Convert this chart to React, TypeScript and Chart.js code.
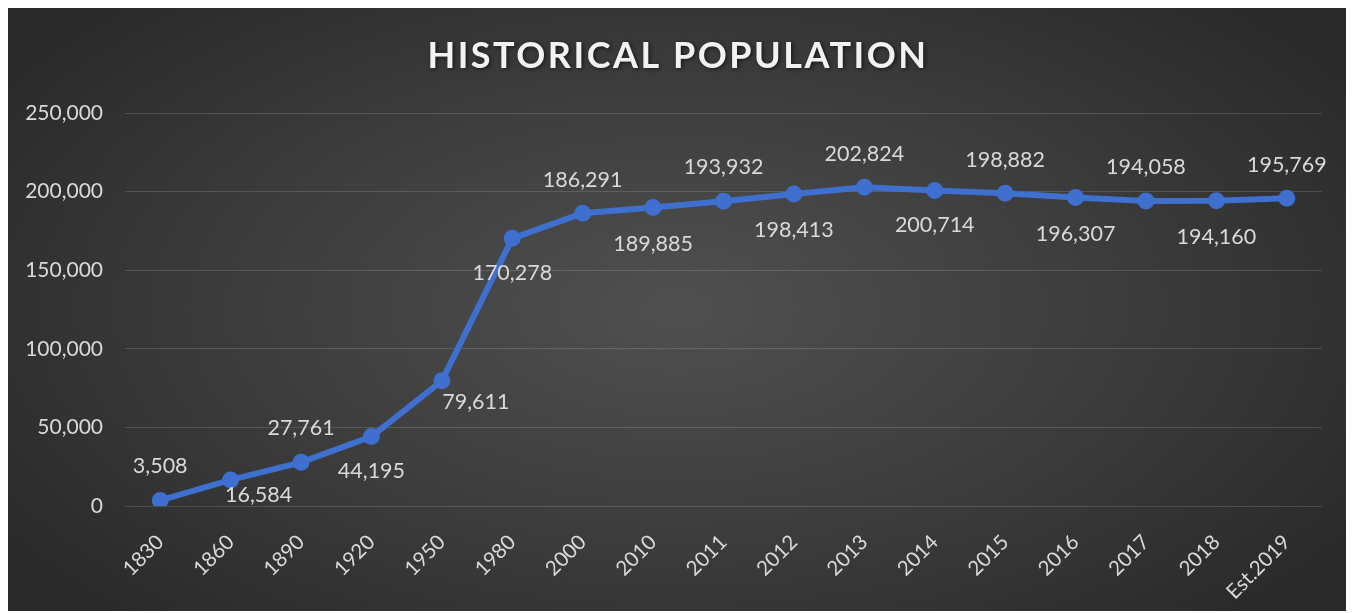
import React, { useEffect, useRef } from "react";
import { Chart, registerables } from "chart.js";

Chart.register(...registerables);

const categories = ["1830", "1860", "1890", "1920", "1950", "1980", "2000", "2010", "2011", "2012", "2013", "2014", "2015", "2016", "2017", "2018", "Est.2019"];
const population = [3508, 16584, 27761, 44195, 79611, 170278, 186291, 189885, 193932, 198413, 202824, 200714, 198882, 196307, 194058, 194160, 195769];
const yTickValues = [0, 50000, 100000, 150000, 200000, 250000];
const titleText = "HISTORICAL POPULATION";
// data label offsets relative to each point (styling)
const labelOffsets: [number, number][] = [
  [0, -34], [28, 15], [0, -34], [0, 35], [34, 21], [0, 35], [0, -33], [0, 37], [0, -34],
  [0, 36], [0, -33], [0, 35], [0, -33], [0, 37], [0, -34], [0, 36], [0, -33],
];

const FONT = "Lato, 'Open Sans', sans-serif";
const TEXT = "#d9d9d9";
const BLUE = "#3f6fcf";

const fmt = (v: number) => v.toLocaleString("en-US");

const titlePlugin = {
  id: "customTitle",
  afterDraw(chart: any) {
    const ctx = chart.ctx as CanvasRenderingContext2D;
    ctx.save();
    ctx.font = `bold 36px ${FONT}`;
    (ctx as any).letterSpacing = "2.5px";
    ctx.fillStyle = "#f2f2f2";
    ctx.textAlign = "center";
    ctx.textBaseline = "middle";
    ctx.shadowColor = "rgba(0,0,0,0.6)";
    ctx.shadowBlur = 4;
    ctx.shadowOffsetX = 1.5;
    ctx.shadowOffsetY = 1.5;
    ctx.fillText(titleText, chart.width / 2 + 1, 49);
    ctx.restore();
  },
};

const labelPlugin = {
  id: "pointLabels",
  afterDatasetsDraw(chart: any) {
    const ctx = chart.ctx as CanvasRenderingContext2D;
    const meta = chart.getDatasetMeta(0);
    ctx.save();
    ctx.font = `21.5px ${FONT}`;
    ctx.fillStyle = TEXT;
    ctx.textAlign = "center";
    ctx.textBaseline = "middle";
    meta.data.forEach((el: any, i: number) => {
      const [dx, dy] = labelOffsets[i] || [0, -34];
      ctx.fillText(fmt(population[i]), el.x + dx, el.y + dy);
    });
    ctx.restore();
  },
};

export default function App() {
  const ref = useRef<HTMLCanvasElement | null>(null);
  useEffect(() => {
    if (!ref.current) return;
    const chart = new Chart(ref.current, {
      type: "line",
      data: {
        labels: categories,
        datasets: [
          {
            label: "Population",
            data: population,
            borderColor: BLUE,
            backgroundColor: BLUE,
            borderWidth: 6,
            pointRadius: 7.5,
            pointBorderWidth: 2,
            pointBorderColor: BLUE,
            pointBackgroundColor: BLUE,
            tension: 0,
          },
        ],
      },
      options: {
        animation: false,
        responsive: true,
        maintainAspectRatio: false,
        layout: { padding: { top: 106, right: 25, left: 0, bottom: 0 } },
        plugins: { legend: { display: false }, title: { display: false }, tooltip: { enabled: false } },
        scales: {
          x: {
            offset: true,
            grid: { display: false },
            border: { display: false },
            ticks: {
              color: TEXT,
              font: { family: FONT, size: 20.5 },
              minRotation: 45,
              maxRotation: 45,
              padding: 16,
            },
            afterFit(scale: any) {
              scale.height = 105;
            },
          },
          y: {
            min: 0,
            max: 250000,
            afterBuildTicks(scale: any) {
              scale.ticks = yTickValues.map((v) => ({ value: v }));
            },
            grid: { color: "rgba(255,255,255,0.14)", lineWidth: 1, drawTicks: false },
            border: { display: false },
            ticks: {
              color: TEXT,
              font: { family: FONT, size: 21 },
              padding: 22,
              callback: (v: any) => fmt(Number(v)),
            },
            afterFit(scale: any) {
              scale.width = 118;
            },
          },
        },
      },
      plugins: [titlePlugin, labelPlugin],
    });
    return () => chart.destroy();
  }, []);
  return (
    <div
      style={{
        width: 1340,
        height: 604,
        marginLeft: -1,
        marginTop: -1,
        position: "relative",
        background: "radial-gradient(ellipse 60% 70% at 50% 50%, #505050 0%, #3c3c3c 55%, #2a2a2a 100%)",
      }}
    >
      <canvas ref={ref} />
    </div>
  );
}
